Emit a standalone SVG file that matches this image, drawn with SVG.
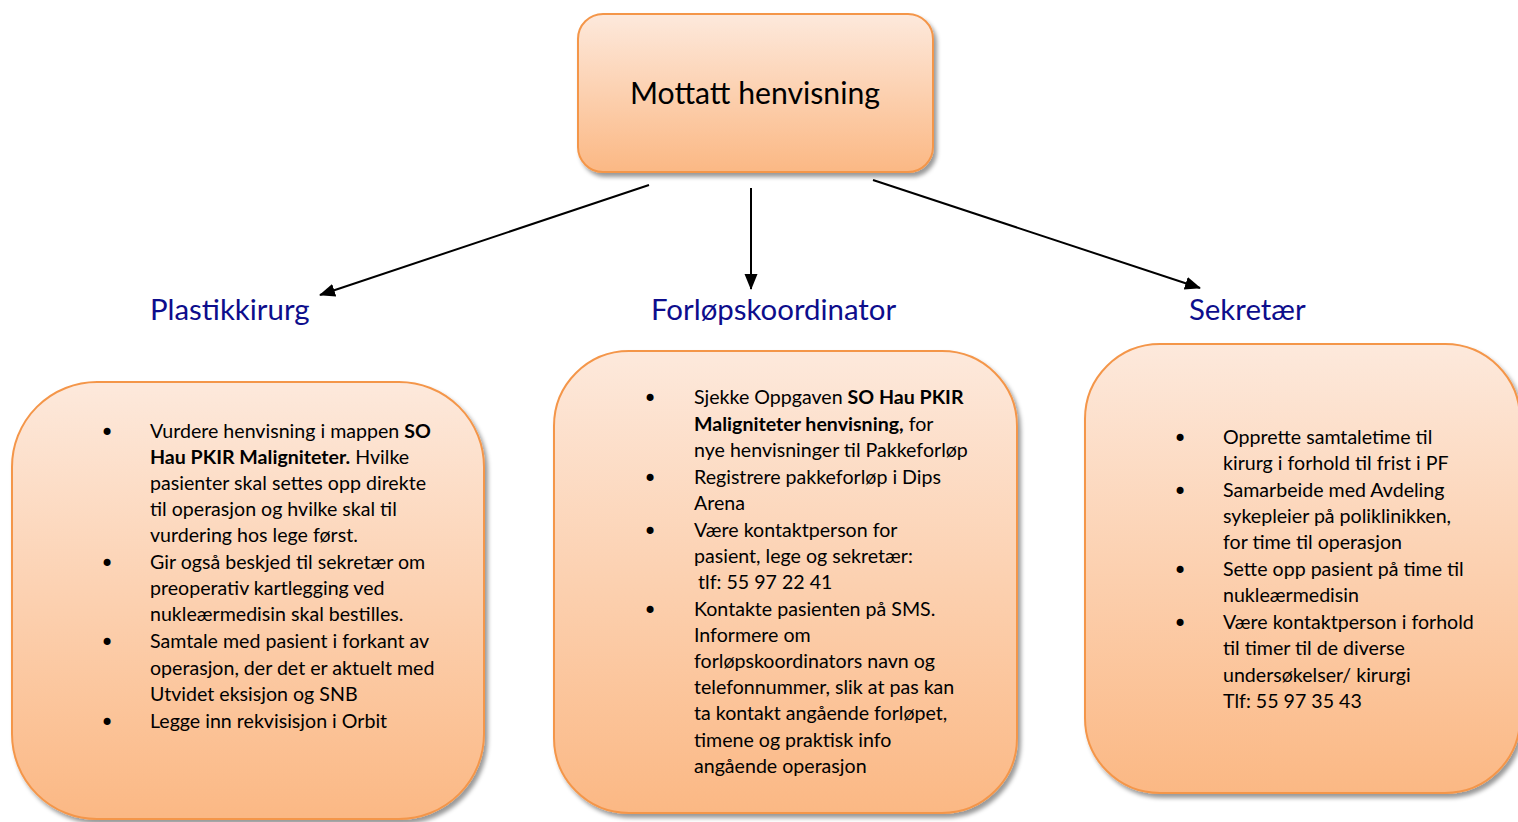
<svg xmlns="http://www.w3.org/2000/svg" width="1518" height="822" viewBox="0 0 1518 822">
<defs>
<linearGradient id="g" x1="0" y1="0" x2="0" y2="1">
<stop offset="0" stop-color="#fde9dc"/>
<stop offset="1" stop-color="#fbb884"/>
</linearGradient>
<filter id="sh" x="-10%" y="-10%" width="120%" height="120%">
<feDropShadow dx="3" dy="4" stdDeviation="2" flood-color="#000" flood-opacity="0.4"/>
</filter>
<marker id="ah" markerWidth="16" markerHeight="16" viewBox="0 0 16 16" refX="15" refY="8" orient="auto" markerUnits="userSpaceOnUse">
<path d="M0,1.5 L16,8 L0,14.5 Z" fill="#000"/>
</marker>
</defs>
<style>
.box{fill:url(#g);stroke:#f4964a;stroke-width:2;filter:url(#sh)}
.t{font-family:Lato,"Open Sans",sans-serif;font-size:19.6px;fill:#000}
.bu{font-family:"DejaVu Sans",sans-serif;font-size:24px}
.b{font-weight:bold}
.h{font-family:Lato,"Open Sans",sans-serif;font-size:29.4px;fill:#0d0d8c}
.c{stroke:#000;stroke-width:2;fill:none;marker-end:url(#ah)}
</style>

<g id="connectors">
<line class="c" x1="649" y1="185" x2="320" y2="295"/>
<line class="c" x1="751" y1="188" x2="751" y2="289"/>
<line class="c" x1="873" y1="180" x2="1200" y2="288"/>
</g>

<g id="mottatt">
<rect class="box" x="578" y="14" width="355" height="158" rx="25"/>
<text x="755" y="104" text-anchor="middle" font-family="Lato, 'Open Sans', sans-serif" font-size="30.2" fill="#000">Mottatt henvisning</text>
</g>

<g id="plastikkirurg-label"><text class="h" x="150" y="320">Plastikkirurg</text></g>
<g id="forlop-label"><text class="h" x="651" y="320">Forløpskoordinator</text></g>
<g id="sekretaer-label"><text class="h" x="1189" y="320">Sekretær</text></g>

<g id="plastikkirurg">
<rect class="box" x="12" y="382" width="472" height="437" rx="85"/>
<g class="t">
<text class="bu" x="100" y="441">•</text>
<text x="150" y="438">Vurdere henvisning i mappen <tspan class="b">SO</tspan></text>
<text x="150" y="464"><tspan class="b">Hau PKIR Maligniteter.</tspan> Hvilke</text>
<text x="150" y="490">pasienter skal settes opp direkte</text>
<text x="150" y="516">til operasjon og hvilke skal til</text>
<text x="150" y="542">vurdering hos lege først.</text>
<text class="bu" x="100" y="572">•</text>
<text x="150" y="569">Gir også beskjed til sekretær om</text>
<text x="150" y="595">preoperativ kartlegging ved</text>
<text x="150" y="621">nukleærmedisin skal bestilles.</text>
<text class="bu" x="100" y="651">•</text>
<text x="150" y="648">Samtale med pasient i forkant av</text>
<text x="150" y="675">operasjon, der det er aktuelt med</text>
<text x="150" y="701">Utvidet eksisjon og SNB</text>
<text class="bu" x="100" y="731">•</text>
<text x="150" y="728">Legge inn rekvisisjon i Orbit</text>
</g>
</g>

<g id="forlopskoordinator">
<rect class="box" x="554" y="351" width="463" height="462" rx="75"/>
<g class="t">
<text class="bu" x="643" y="407">•</text>
<text x="694" y="404">Sjekke Oppgaven <tspan class="b">SO Hau PKIR</tspan></text>
<text x="694" y="431"><tspan class="b">Maligniteter henvisning,</tspan> for</text>
<text x="694" y="457">nye henvisninger til Pakkeforløp</text>
<text class="bu" x="643" y="487">•</text>
<text x="694" y="484">Registrere pakkeforløp i Dips</text>
<text x="694" y="510">Arena</text>
<text class="bu" x="643" y="540">•</text>
<text x="694" y="537">Være kontaktperson for</text>
<text x="694" y="563">pasient, lege og sekretær:</text>
<text x="698" y="589">tlf: 55 97 22 41</text>
<text class="bu" x="643" y="619">•</text>
<text x="694" y="616">Kontakte pasienten på SMS.</text>
<text x="694" y="642">Informere om</text>
<text x="694" y="668">forløpskoordinators navn og</text>
<text x="694" y="694">telefonnummer, slik at pas kan</text>
<text x="694" y="720">ta kontakt angående forløpet,</text>
<text x="694" y="747">timene og praktisk info</text>
<text x="694" y="773">angående operasjon</text>
</g>
</g>

<g id="sekretaer">
<rect class="box" x="1085" y="344" width="435" height="449" rx="75"/>
<g class="t">
<text class="bu" x="1173" y="447">•</text>
<text x="1223" y="444">Opprette samtaletime til</text>
<text x="1223" y="470">kirurg i forhold til frist i PF</text>
<text class="bu" x="1173" y="500">•</text>
<text x="1223" y="497">Samarbeide med Avdeling</text>
<text x="1223" y="523">sykepleier på poliklinikken,</text>
<text x="1223" y="549">for time til operasjon</text>
<text class="bu" x="1173" y="579">•</text>
<text x="1223" y="576">Sette opp pasient på time til</text>
<text x="1223" y="602">nukleærmedisin</text>
<text class="bu" x="1173" y="632">•</text>
<text x="1223" y="629">Være kontaktperson i forhold</text>
<text x="1223" y="655">til timer til de diverse</text>
<text x="1223" y="682">undersøkelser/ kirurgi</text>
<text x="1223" y="708">Tlf: 55 97 35 43</text>
</g>
</g>
</svg>
